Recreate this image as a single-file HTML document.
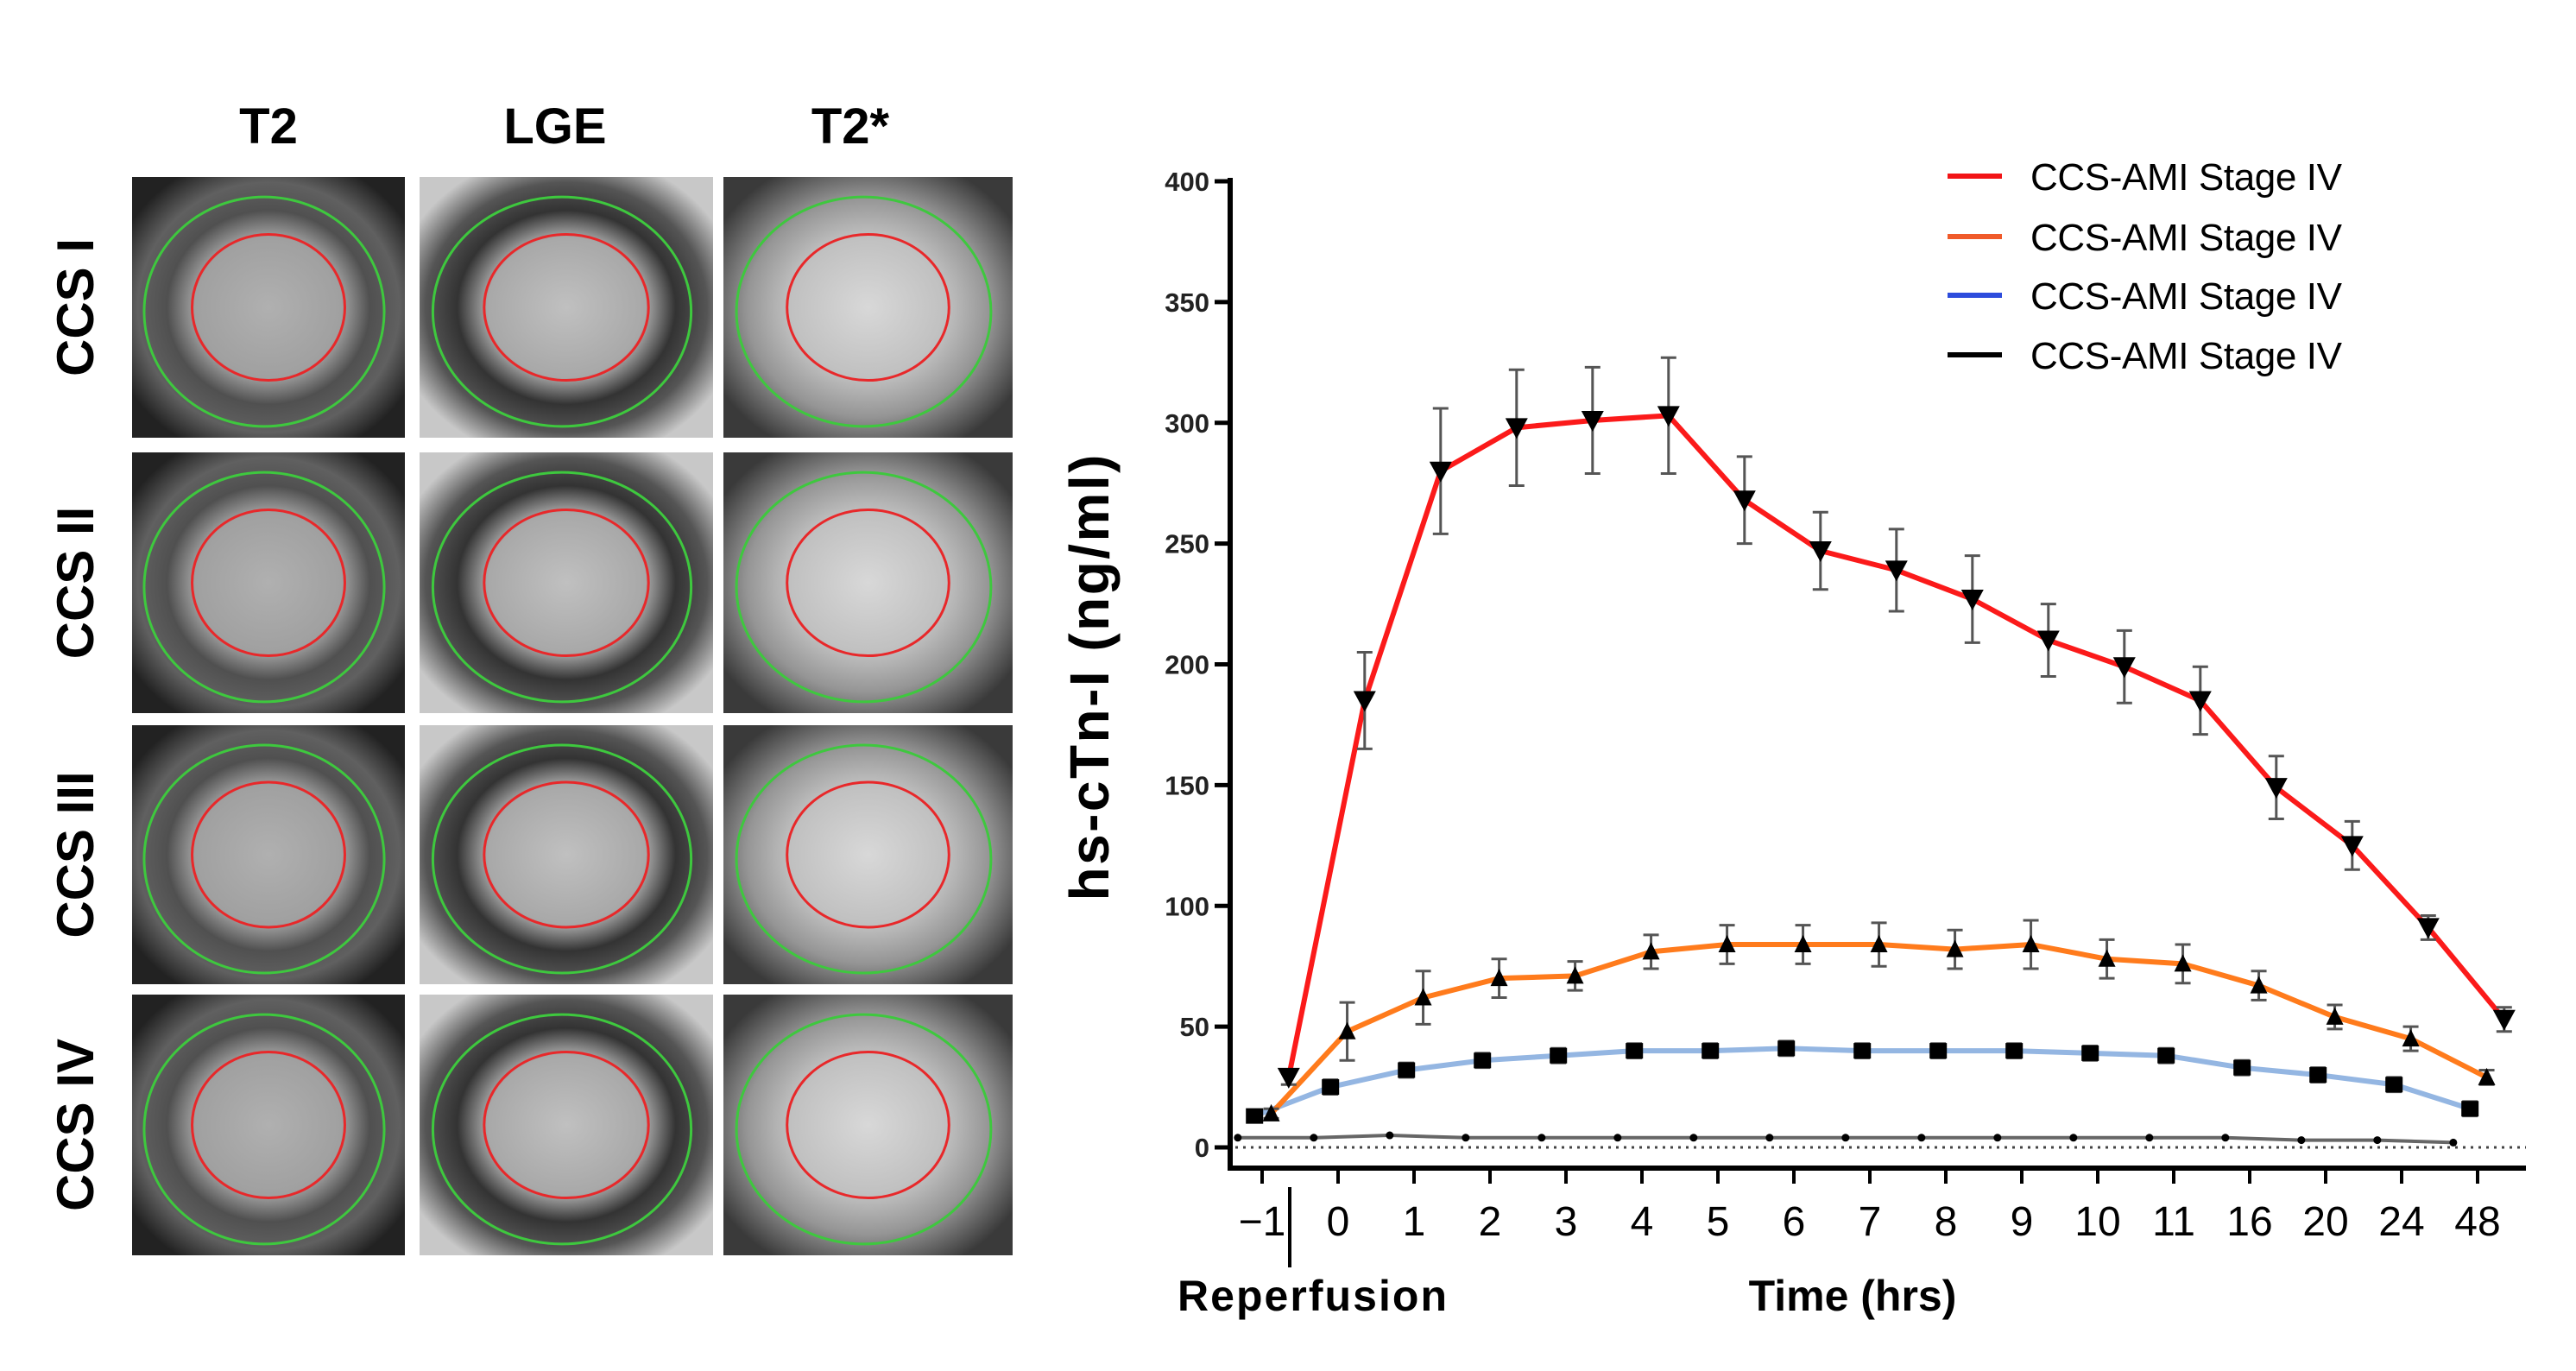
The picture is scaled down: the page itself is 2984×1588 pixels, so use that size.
<!DOCTYPE html>
<html><head><meta charset="utf-8"><style>
html,body{margin:0;padding:0;background:#fff;}
svg{display:block;}
text{font-family:"Liberation Sans",sans-serif;}
</style></head><body>
<svg id="fig" width="2984" height="1588" viewBox="0 0 2984 1588" xmlns="http://www.w3.org/2000/svg">
<defs>
<radialGradient id="g1" cx="50%" cy="50%" r="60%"><stop offset="0" stop-color="#b0b0b0"/><stop offset="0.45" stop-color="#a0a0a0"/><stop offset="0.62" stop-color="#505050"/><stop offset="0.8" stop-color="#606060"/><stop offset="1" stop-color="#222"/></radialGradient>
<radialGradient id="g2" cx="50%" cy="50%" r="60%"><stop offset="0" stop-color="#c0c0c0"/><stop offset="0.45" stop-color="#a8a8a8"/><stop offset="0.62" stop-color="#333"/><stop offset="0.8" stop-color="#555"/><stop offset="1" stop-color="#c8c8c8"/></radialGradient>
<radialGradient id="g3" cx="50%" cy="50%" r="60%"><stop offset="0" stop-color="#d8d8d8"/><stop offset="0.45" stop-color="#c0c0c0"/><stop offset="0.7" stop-color="#959595"/><stop offset="1" stop-color="#3a3a3a"/></radialGradient>
</defs>
<g id="left-panel"></g>
<g id="chart"></g>
</svg>
<script>
// ---- chart data ----
const categories = ["-1","0","1","2","3","4","5","6","7","8","9","10","11","16","20","24","48"];
const yTicks = [0,50,100,150,200,250,300,350,400];
const redValues = [29,185,280,298,301,303,268,247,239,227,210,199,185,149,125,91,53];
const redErrors = [3,20,26,24,22,24,18,16,17,18,15,15,14,13,10,5,5];
const orangeValues = [14,48,62,70,71,81,84,84,84,82,84,78,76,67,54,45,29];
const orangeErrors = [2,12,11,8,6,7,8,8,9,8,10,8,8,6,5,5,3];
const blueValues = [13,25,32,36,38,40,40,41,40,40,40,39,38,33,30,26,16];
const blueErrors = [2,3,3,3,3,3,3,3,3,3,3,3,3,3,3,3,3];
const blackValues = [4,4,5,4,4,4,4,4,4,4,4,4,4,4,3,3,2];
const legendLabels = ["CCS-AMI Stage IV","CCS-AMI Stage IV","CCS-AMI Stage IV","CCS-AMI Stage IV"];

const NS="http://www.w3.org/2000/svg";
function mk(tag, attrs, parent){const e=document.createElementNS(NS,tag);for(const k in attrs)e.setAttribute(k,attrs[k]);parent.appendChild(e);return e;}

// ---- left panel ----
const lp=document.getElementById('left-panel');
const cols=[[153,469],[486,826],[838,1173]];
const rows=[[205,507],[524,826],[840,1140],[1152,1454]];
const headers=["T2","LGE","T2*"];
const rowLabels=["CCS I","CCS II","CCS III","CCS IV"];
const hx=[311,643,985];
headers.forEach((h,i)=>{
  const t=mk('text',{x:hx[i],y:166,'text-anchor':'middle','font-size':58,'font-weight':'bold'},lp);
  t.textContent=h;
  
  
});
rowLabels.forEach((r,j)=>{
  const cy=(rows[j][0]+rows[j][1])/2;
  const t=mk('text',{x:0,y:0,transform:`translate(108,${cy}) rotate(-90)`,'text-anchor':'middle','font-size':60,'font-weight':'bold'},lp);
  t.textContent=r;
  
  
});
rows.forEach((r,j)=>{cols.forEach((c,i)=>{
  const g=mk('g',{},lp);
  
  
  const w=c[1]-c[0],h=r[1]-r[0],cx=(c[0]+c[1])/2,cy=(r[0]+r[1])/2;
  mk('rect',{x:c[0],y:r[0],width:w,height:h,fill:'url(#g'+(i+1)+')'},g);
  mk('ellipse',{cx:cx-5,cy:cy+5,rx:w*0.44,ry:h*0.44,fill:'none',stroke:'#3ec83e','stroke-width':3},g);
  mk('ellipse',{cx:cx,cy:cy,rx:w*0.28,ry:h*0.28,fill:'none',stroke:'#e8282a','stroke-width':3},g);
});});

// ---- chart ----
const ch=document.getElementById('chart');
const X0=1425, XEND=2926, XAX=1353;
const tick0=1462, tickStep=88.0;
const Y0=1329, Y400=210;
function xs(i,off){return tick0+(i+(off||0))*tickStep;}
function ys(v){return Y0-(v/400)*(Y0-Y400);}

// axes
const ya=mk('line',{x1:X0,y1:ys(400)-4,x2:X0,y2:XAX+3,stroke:'#000','stroke-width':6},ch);

const xa=mk('line',{x1:X0-3,y1:XAX,x2:XEND,y2:XAX,stroke:'#000','stroke-width':6},ch);

yTicks.forEach(v=>{
  mk('line',{x1:X0-18,y1:ys(v),x2:X0,y2:ys(v),stroke:'#000','stroke-width':5},ch);
  const t=mk('text',{x:X0-24,y:ys(v)+11,'text-anchor':'end','font-size':31,'font-weight':'bold',fill:'#222'},ch);
  t.textContent=v;
  
  
});
categories.forEach((c,i)=>{
  mk('line',{x1:xs(i),y1:XAX,x2:xs(i),y2:XAX+18,stroke:'#000','stroke-width':4},ch);
  const t=mk('text',{x:xs(i),y:1431,'text-anchor':'middle','font-size':48,fill:'#000'},ch);
  t.textContent=c==="-1"?"\u22121":c;
  
  
});
// zero dotted line
const zl=mk('line',{x1:X0+6,y1:ys(0),x2:XEND,y2:ys(0),stroke:'#444','stroke-width':3,'stroke-dasharray':'3 6'},ch);

// reperfusion marker
const rm=mk('line',{x1:1494,y1:1375,x2:1494,y2:1468,stroke:'#000','stroke-width':4},ch);

const rt=mk('text',{x:1364,y:1518,'font-size':50,'font-weight':'bold',textLength:312},ch);
rt.textContent="Reperfusion";
const xt=mk('text',{x:2146,y:1518,'text-anchor':'middle','font-size':50,'font-weight':'bold'},ch);
xt.textContent="Time (hrs)";
const yt=mk('text',{x:0,y:0,transform:'translate(1284,785) rotate(-90)','text-anchor':'middle','font-size':64,'font-weight':'bold',textLength:517},ch);
yt.textContent="hs-cTn-I (ng/ml)";

function series(vals,errs,off,color,width,marker,name){
  const g=mk('g',{},ch);
  
  
  const pts=vals.map((v,i)=>xs(i,off)+','+ys(v)).join(' ');
  mk('polyline',{points:pts,fill:'none',stroke:color,'stroke-width':width,'stroke-linejoin':'round'},g);
  vals.forEach((v,i)=>{
    const x=xs(i,off),y=ys(v);
    if(errs){const e=errs[i];
      mk('line',{x1:x,y1:ys(v+e),x2:x,y2:ys(v-e),stroke:'#555','stroke-width':3},g);
      mk('line',{x1:x-9,y1:ys(v+e),x2:x+9,y2:ys(v+e),stroke:'#555','stroke-width':3},g);
      mk('line',{x1:x-9,y1:ys(v-e),x2:x+9,y2:ys(v-e),stroke:'#555','stroke-width':3},g);}
    let m;
    if(marker==='down') m=mk('polygon',{points:`${x-13},${y-11} ${x+13},${y-11} ${x},${y+13}`,fill:'#000'},g);
    else if(marker==='up') m=mk('polygon',{points:`${x-10},${y+9} ${x+10},${y+9} ${x},${y-11}`,fill:'#000'},g);
    else if(marker==='sq') m=mk('rect',{x:x-10,y:y-9,width:20,height:18,fill:'#000'},g);
    else m=mk('circle',{cx:x,cy:y,r:4.5,fill:'#000'},g);
    
    
  });
}
series(blackValues,null,-0.32,'#666',4,'dot','series-black');
series(blueValues,blueErrors,-0.1,'#94b6e2',6,'sq','series-blue');
series(orangeValues,orangeErrors,0.12,'#ff7b1c',6,'up','series-orange');
series(redValues,redErrors,0.35,'#fb1a1a',6,'down','series-red');

// legend
const legColors=['#f21416','#f05a2a','#2d4cdc','#000'];
const legY=[204,274,342,411];
legendLabels.forEach((l,i)=>{
  const g=mk('g',{},ch);
  
  
  mk('line',{x1:2256,y1:legY[i],x2:2319,y2:legY[i],stroke:legColors[i],'stroke-width':6},g);
  const t=mk('text',{x:2352,y:legY[i]+16,'font-size':44,textLength:361},g);
  t.textContent=l;
});
</script>
</body></html>
